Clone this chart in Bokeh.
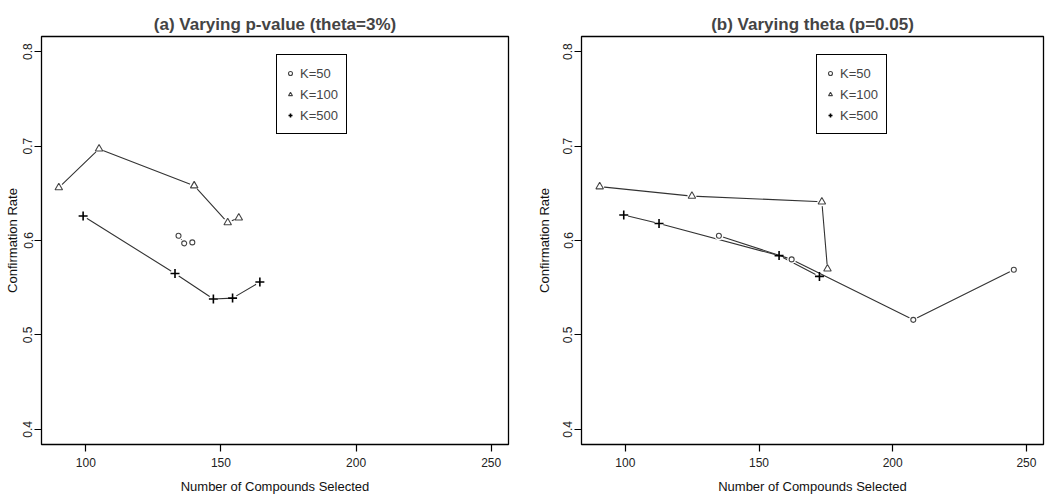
from bokeh.plotting import figure
from bokeh.layouts import row
from bokeh.models import Range1d, Legend, LegendItem, FixedTicker
from bokeh.embed import file_html
from bokeh.resources import INLINE

FONT = "Liberation Sans"

# ---- data: panel (a) varying p-value (theta=3%)
a_k50_x = [134.3, 136.4, 139.4]
a_k50_y = [0.605, 0.597, 0.598]
a_k100_x = [90.0, 104.9, 140.1, 152.5, 156.6]
a_k100_y = [0.656, 0.697, 0.658, 0.619, 0.624]
a_k500_x = [99.0, 133.0, 147.2, 154.3, 164.4]
a_k500_y = [0.626, 0.565, 0.538, 0.539, 0.556]

# ---- data: panel (b) varying theta (p=0.05)
b_k50_x = [135.0, 162.2, 207.7, 245.3]
b_k50_y = [0.605, 0.580, 0.516, 0.569]
b_k100_x = [90.4, 124.9, 173.5, 175.6]
b_k100_y = [0.657, 0.647, 0.641, 0.570]
b_k500_x = [99.4, 112.6, 157.5, 172.6]
b_k500_y = [0.627, 0.618, 0.584, 0.562]

x_ticks = [100, 150, 200, 250]
y_ticks = [0.4, 0.5, 0.6, 0.7, 0.8]
y_tick_labels = ["0.4", "0.5", "0.6", "0.7", "0.8"]
legend_labels = ["K=50", "K=100", "K=500"]

titles = ["(a) Varying p-value (theta=3%)", "(b) Varying theta (p=0.05)"]
x_label = "Number of Compounds Selected"
y_label = "Confirmation Rate"

LINE = "#333333"
MARK = "#444444"


def make_panel(title, series, width, border_left, border_right, label_standoff):
    p = figure(width=width, height=496, output_backend="svg", toolbar_location=None,
               x_range=Range1d(83.6, 256.4), y_range=Range1d(0.384, 0.816),
               min_border_left=border_left, min_border_right=border_right,
               min_border_top=36, min_border_bottom=52)
    p.title.text = title
    p.title.align = "center"
    p.title.text_font = FONT
    p.title.text_font_style = "bold"
    p.title.text_font_size = "17px"
    p.title.standoff = 6
    p.outline_line_color = "black"
    p.outline_line_width = 1.3
    p.outline_line_alpha = 1
    p.xgrid.visible = False
    p.ygrid.visible = False
    p.background_fill_color = "white"
    p.border_fill_color = "white"

    for ax in (p.xaxis[0], p.yaxis[0]):
        ax.axis_line_color = None
        ax.major_tick_in = 0
        ax.major_tick_out = 7
        ax.major_tick_line_color = "black"
        ax.major_tick_line_width = 1.2
        ax.minor_tick_line_color = None
        ax.major_label_text_font = FONT
        ax.major_label_text_font_size = "12px"
        ax.major_label_text_color = "#222222"
        ax.axis_label_text_font = FONT
        ax.axis_label_text_font_size = "13px"
        ax.axis_label_text_font_style = "normal"
        ax.axis_label_text_color = "#111111"
    p.xaxis.ticker = FixedTicker(ticks=x_ticks)
    p.yaxis.ticker = FixedTicker(ticks=y_ticks)
    p.yaxis.major_label_overrides = {t: s for t, s in zip(y_ticks, y_tick_labels)}
    p.yaxis.major_label_orientation = "vertical"
    p.xaxis.major_label_standoff = 6
    p.yaxis.major_label_standoff = 2
    p.xaxis.axis_label = x_label
    p.yaxis.axis_label = y_label
    p.xaxis.axis_label_standoff = 9
    p.yaxis.axis_label_standoff = label_standoff

    # lines with white masks around points (R type="b" look)
    for i in [2, 1, 0]:
        xs, ys = series[i]
        p.line(xs, ys, line_color=LINE, line_width=1.1)
        p.scatter(xs, ys, marker="circle", size=9, fill_color="white", line_color=None)

    r50 = p.scatter(series[0][0], series[0][1], marker="circle", size=5,
                    fill_color=None, line_color=MARK, line_width=1.1)
    r100 = p.scatter(series[1][0], series[1][1], marker="triangle", size=7.5,
                     fill_color=None, line_color=MARK, line_width=1.1)
    r500 = p.scatter(series[2][0], series[2][1], marker="cross", size=9,
                     line_color="black", line_width=1.6)
    markers = [r50, r100, r500]

    legend = Legend(items=[LegendItem(label=l, renderers=[r]) for l, r in zip(legend_labels, markers)],
                    location=(235, 310))
    legend.label_text_font = FONT
    legend.label_text_font_size = "13px"
    legend.border_line_color = "black"
    legend.border_line_width = 1.2
    legend.border_line_alpha = 1
    legend.padding = 8
    legend.spacing = 1
    legend.margin = 0
    legend.glyph_width = 10
    legend.glyph_height = 20
    legend.label_height = 20
    legend.label_standoff = 5
    legend.background_fill_alpha = 1
    p.add_layout(legend, "center")
    return p


pa = make_panel(titles[0], [(a_k50_x, a_k50_y), (a_k100_x, a_k100_y), (a_k500_x, a_k500_y)],
                525, 41, 17, 1)
pb = make_panel(titles[1], [(b_k50_x, b_k50_y), (b_k100_x, b_k100_y), (b_k500_x, b_k500_y)],
                523, 56, 5, 9)

layout = row(pa, pb)
open("out.html", "w").write(file_html(layout, INLINE))
